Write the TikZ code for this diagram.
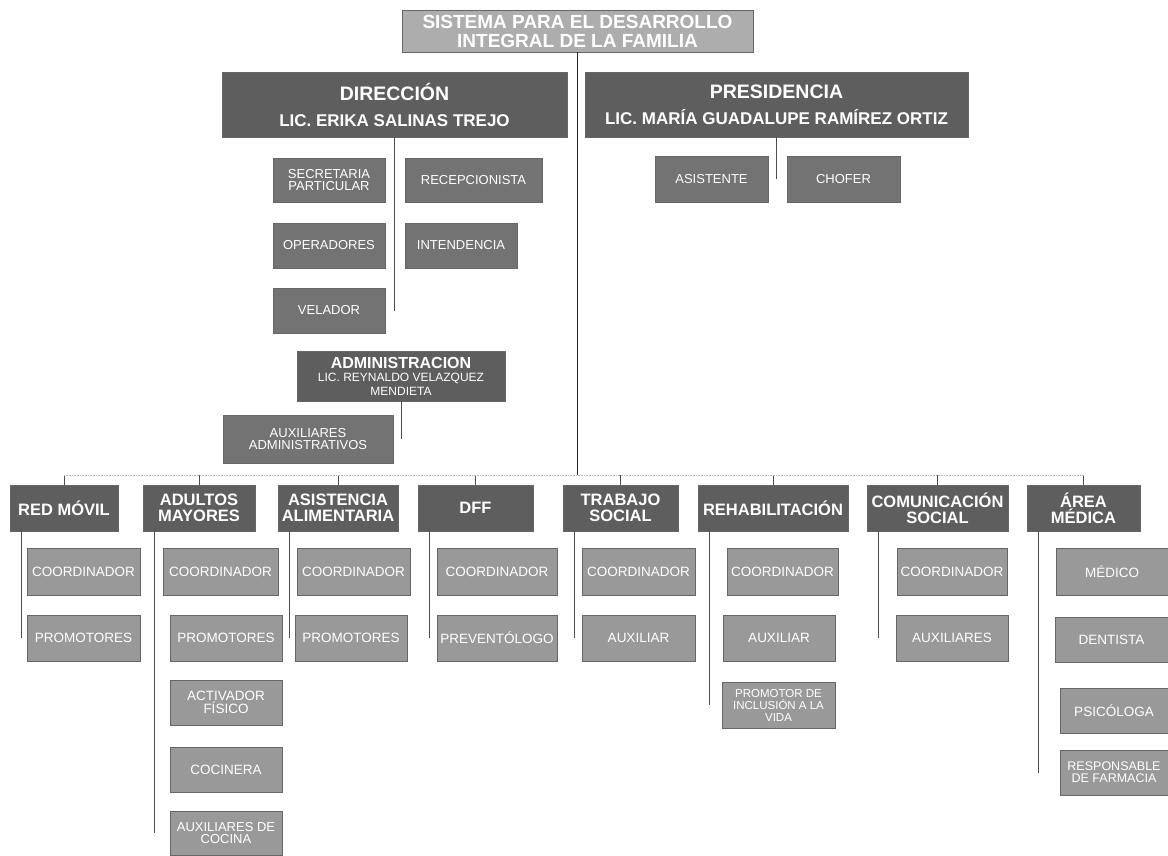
\documentclass[tikz,border=0pt]{standalone}
\usepackage{fontspec}
\setmainfont{Liberation Sans}
\usetikzlibrary{
  calc
}
\definecolor{titlegray}{gray}{0.68}
\definecolor{headgray}{gray}{0.37}
\definecolor{staffgray}{gray}{0.45}
\definecolor{unitgray}{gray}{0.60}
\tikzset{
  % Common look of every box.
  box/.style={
    draw=black!60,
    line width=0.4pt,
    text=white,
    align=center,
    inner sep=0pt},
%
  % Size of a box, in points.
  box size/.style 2 args={
    minimum width=#1pt,
    minimum height=#2pt},
%
  % For the name of the institution.
  title box/.style={
    box,
    fill=titlegray,
    font=\fontsize{19}{19}\selectfont\bfseries},
%
  % For the two heads and the administration.
  head box/.style={
    box,
    fill=headgray,
    font=\fontsize{17}{26}\selectfont\bfseries},
%
  % For the staff below the heads.
  staff box/.style={
    box,
    fill=staffgray,
    font=\fontsize{13}{12}\selectfont},
%
  % For the departments.
  dept box/.style={
    box,
    fill=headgray,
    font=\fontsize{16.5}{16}\selectfont\bfseries},
%
  % For the posts within a department.
  unit box/.style={
    box,
    fill=unitgray,
    font=\fontsize{13.5}{12.5}\selectfont},
%
  % For the trunk line.
  main line/.style={
    line width=1.6pt,
    black!85},
%
  % For the other connectors.
  line/.style={
    line width=0.9pt,
    black!70},
%
  % For the barely visible bus above the departments.
  faint line/.style={
    line width=0.6pt,
    black!30,
    densely dotted}
}

\begin{document}
\begin{tikzpicture}[x=1pt, y=-1pt]
  \useasboundingbox[fill=white] (0,0) rectangle (1168,855);

  % Title and the two heads.
  \node[title box, box size={351}{42}] (title) at (577.5,31)
    {SISTEMA PARA EL DESARROLLO\\INTEGRAL DE LA FAMILIA};
  \node[head box, box size={345}{65}] (direccion) at (394.5,104.5)
    {{\fontsize{19.5}{26}\selectfont DIRECCIÓN}\\LIC. ERIKA SALINAS TREJO};
  \node[head box, box size={383}{65}] (presidencia) at (776.5,104.5)
    {{\fontsize{19.5}{26}\selectfont PRESIDENCIA}\\LIC. MARÍA GUADALUPE RAMÍREZ ORTIZ};

  % Staff of the direction.
  \node[staff box, box size={112}{44}] (secretaria) at (329,180) {SECRETARIA\\PARTICULAR};
  \node[staff box, box size={137}{44}] (recepcion) at (473.5,180) {RECEPCIONISTA};
  \node[staff box, box size={112}{45}] (operadores) at (329,245.5) {OPERADORES};
  \node[staff box, box size={112}{45}] (intendencia) at (461,245.5) {INTENDENCIA};
  \node[staff box, box size={112}{45}] (velador) at (329,310.5) {VELADOR};

  % Staff of the presidency.
  \node[staff box, box size={113}{46}] (asistente) at (711.5,179) {ASISTENTE};
  \node[staff box, box size={113}{46}] (chofer) at (843.5,179) {CHOFER};

  % Administration.
  \node[head box, box size={208}{50}, font=\fontsize{12}{13.5}\selectfont] (admin) at (401,376)
    {{\bfseries\fontsize{16}{13.5}\selectfont ADMINISTRACION}\\LIC. REYNALDO VELAZQUEZ\\MENDIETA};
  \node[staff box, box size={170}{48}] (auxadmin) at (308,439) {AUXILIARES\\ADMINISTRATIVOS};

  \draw[line] (direccion.south) -- (direccion.south |- velador.center);
  \draw[line] (presidencia.south) -- (presidencia.south |- asistente.center);
  \draw[line] (admin.south) -- (admin.south |- auxadmin.center);

  % Departments.
  \coordinate (bus) at (0,475);
  \foreach \dept/\cx/\w/\name in {
      redmovil/64/108/{RED MÓVIL},
      adultos/199/112/{ADULTOS\\MAYORES},
      asistencia/338/120/{ASISTENCIA\\ALIMENTARIA},
      dff/475.5/115/{DFF},
      trabajo/620.5/115/{TRABAJO\\SOCIAL},
      rehab/773/150/{REHABILITACIÓN},
      comunic/937.5/141/{COMUNICACIÓN\\SOCIAL},
      area/1083.5/113/{ÁREA\\MÉDICA}}
    {\node[dept box, box size={\w}{46}] (\dept) at (\cx,508) {\name};
     \draw[line] (\dept.north |- bus) -- (\dept.north);}

  \draw[faint line] (redmovil.north |- bus) -- (area.north |- bus);
  \draw[main line] (title.south) -- (title.south |- bus);

  % Posts of each department.
  \node[unit box, box size={113}{47}] (rmcoord) at (83.5,571.5) {COORDINADOR};
  \node[unit box, box size={113}{46}] (rmprom) at (83.5,638) {PROMOTORES};

  \node[unit box, box size={115}{47}] (amcoord) at (220.5,571.5) {COORDINADOR};
  \node[unit box, box size={112}{46}] (amprom) at (226,638) {PROMOTORES};
  \node[unit box, box size={112}{45}] (amactiv) at (226,702.5) {ACTIVADOR\\FÍSICO};
  \node[unit box, box size={112}{45}] (amcocina) at (226,769.5) {COCINERA};
  \node[unit box, box size={112}{44}, font=\fontsize{13}{12.5}\selectfont] (amauxcoc) at (226,833)
    {AUXILIARES DE\\COCINA};

  \node[unit box, box size={113}{47}] (aacoord) at (353.5,571.5) {COORDINADOR};
  \node[unit box, box size={112}{46}] (aaprom) at (351,638) {PROMOTORES};

  \node[unit box, box size={120}{47}] (dffcoord) at (497,571.5) {COORDINADOR};
  \node[unit box, box size={120}{46}] (dffprev) at (497,638) {PREVENTÓLOGO};

  \node[unit box, box size={113}{47}] (tscoord) at (638.5,571.5) {COORDINADOR};
  \node[unit box, box size={113}{46}] (tsaux) at (638.5,638) {AUXILIAR};

  \node[unit box, box size={111}{47}] (rhcoord) at (782.5,571.5) {COORDINADOR};
  \node[unit box, box size={112}{46}] (rhaux) at (779,638) {AUXILIAR};
  \node[unit box, box size={113}{46}, font=\fontsize{11.5}{12}\selectfont] (rhprom) at (778.5,705)
    {PROMOTOR DE\\INCLUSIÓN A LA\\VIDA};

  \node[unit box, box size={110}{47}] (cscoord) at (952,571.5) {COORDINADOR};
  \node[unit box, box size={112}{46}] (csaux) at (952,638) {AUXILIARES};

  \node[unit box, box size={112}{47}] (medico) at (1112,571.5) {MÉDICO};
  \node[unit box, box size={113}{45}] (dentista) at (1111.5,639.5) {DENTISTA};
  \node[unit box, box size={108}{45}] (psicologa) at (1114,710.5) {PSICÓLOGA};
  \node[unit box, box size={108}{45}, font=\fontsize{12.5}{12}\selectfont] (farmacia) at (1114,772.5)
    {RESPONSABLE\\DE FARMACIA};

  % Column lines, down to the last post of each department.
  \foreach \dept/\last in {redmovil/rmprom, adultos/amauxcoc, asistencia/aaprom,
      dff/dffprev, trabajo/tsaux, rehab/rhprom, comunic/csaux, area/farmacia}
    {\draw[line] ($(\dept.south west)+(12,0)$) -- ($(\dept.south west |- \last.center)+(12,0)$);}
\end{tikzpicture}
\end{document}
